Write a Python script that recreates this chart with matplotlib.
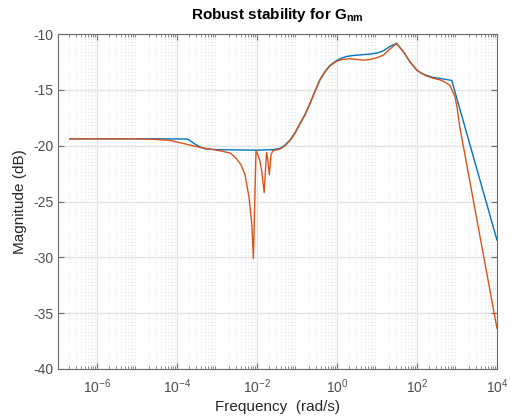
import matplotlib.pyplot as plt
import numpy as np
from matplotlib.ticker import LogLocator, NullFormatter

plt.rcParams['font.family'] = ['Liberation Sans', 'DejaVu Sans']
plt.rcParams['mathtext.fontset'] = 'custom'
plt.rcParams['mathtext.rm'] = 'Liberation Sans'
plt.rcParams['mathtext.bf'] = 'Liberation Sans:bold'
plt.rcParams['axes.unicode_minus'] = False

# log10(frequency) and magnitude (dB)
w_nom = [-6.68, -4.5, -3.75, -3.7, -3.55, -3.425, -3.3, -3.0, -2.0, -1.6,
         -1.425, -1.3, -1.175, -1.05, -0.925, -0.8, -0.675, -0.55, -0.43, -0.3,
         -0.175, -0.08, 0.0, 0.12, 0.24, 0.4, 0.575, 0.8, 1.0, 1.16, 1.325,
         1.49, 1.66, 1.825, 1.99, 2.1, 2.24, 2.4, 2.575, 2.87, 4.0]
mag_nom = [-19.38, -19.38, -19.4, -19.48, -19.85, -20.1, -20.28, -20.35, -20.4,
           -20.35, -20.24, -19.95, -19.5, -18.85, -18.0, -17.2, -16.2, -15.1,
           -14.1, -13.35, -12.8, -12.55, -12.35, -12.15, -12.0, -11.92, -11.86,
           -11.8, -11.7, -11.5, -11.1, -10.83, -11.58, -12.48, -13.2, -13.48,
           -13.7, -13.88, -13.97, -14.15, -28.45]

w_pert = [-6.68, -5.0, -4.6, -4.175, -3.925, -3.675, -3.425, -3.175, -2.925,
          -2.675, -2.55, -2.4, -2.3, -2.2, -2.13, -2.09, -2.025, -1.98, -1.93,
          -1.88, -1.82, -1.78, -1.76, -1.73, -1.69, -1.65, -1.6, -1.425, -1.3,
          -1.175, -1.05, -0.925, -0.8, -0.675, -0.55, -0.43, -0.3, -0.175,
          -0.08, 0.0, 0.12, 0.325, 0.66, 0.825, 1.0, 1.16, 1.325, 1.49, 1.66,
          1.825, 1.99, 2.1, 2.24, 2.4, 2.575, 2.7, 2.825, 2.9, 2.95, 3.0, 3.07,
          4.0]
mag_pert = [-19.38, -19.38, -19.42, -19.52, -19.73, -19.94, -20.15, -20.3,
            -20.45, -20.65, -21.0, -21.7, -22.6, -24.6, -27.0, -30.1, -20.45,
            -20.8, -21.3, -22.3, -24.2, -21.7, -20.6, -21.2, -22.6, -20.8,
            -20.45, -20.3, -20.0, -19.55, -18.9, -18.05, -17.25, -16.25, -15.15,
            -14.15, -13.4, -12.85, -12.6, -12.42, -12.28, -12.2, -12.33, -12.27,
            -12.12, -11.88, -11.34, -10.83, -11.58, -12.48, -13.2, -13.5, -13.75,
            -13.95, -14.1, -14.3, -14.6, -15.2, -15.6, -16.5, -18.3, -36.35]

yticks = [-40, -35, -30, -25, -20, -15, -10]
xticks = [1e-6, 1e-4, 1e-2, 1, 1e2, 1e4]

fig = plt.figure(figsize=(5.11, 4.16), dpi=100)
ax = fig.add_axes([0.1135, 0.113, 0.859, 0.805])

ax.semilogx(10 ** np.array(w_nom), mag_nom, color='#0072BD', lw=1.0)
ax.semilogx(10 ** np.array(w_pert), mag_pert, color='#D95319', lw=1.0)

ax.set_xlim(10 ** -6.975, 1e4)
ax.set_ylim(-40, -10)
ax.set_yticks(yticks)
ax.set_xticks(xticks)
ax.xaxis.set_minor_locator(LogLocator(base=10, subs=np.arange(2, 10), numticks=30))
ax.xaxis.set_minor_formatter(NullFormatter())

ax.grid(True, which='major', color='#e3e3e3', lw=1.0)
ax.grid(True, which='minor', axis='x', color='#d5d5d5', lw=0.6, ls=(0, (1, 3)))
ax.set_axisbelow(True)

for s in ax.spines.values():
    s.set_color('#6b6b6b')
    s.set_linewidth(0.8)
ax.tick_params(which='both', direction='in', top=True, right=True,
               colors='#6b6b6b', labelcolor='#4d4d4d', labelsize=10)
ax.tick_params(axis='x', which='major', pad=6)
ax.tick_params(which='major', length=4)
ax.tick_params(which='minor', length=2.5)

ax.set_xlabel('Frequency  (rad/s)', fontsize=11, color='#262626', labelpad=3)
ax.set_ylabel('Magnitude (dB)', fontsize=11, color='#262626')
ax.set_title(r'Robust stability for G$_{\bf nm}$', fontsize=11,
             fontweight='bold', color='#000000', pad=11)

fig.savefig('out.png', dpi=100)
